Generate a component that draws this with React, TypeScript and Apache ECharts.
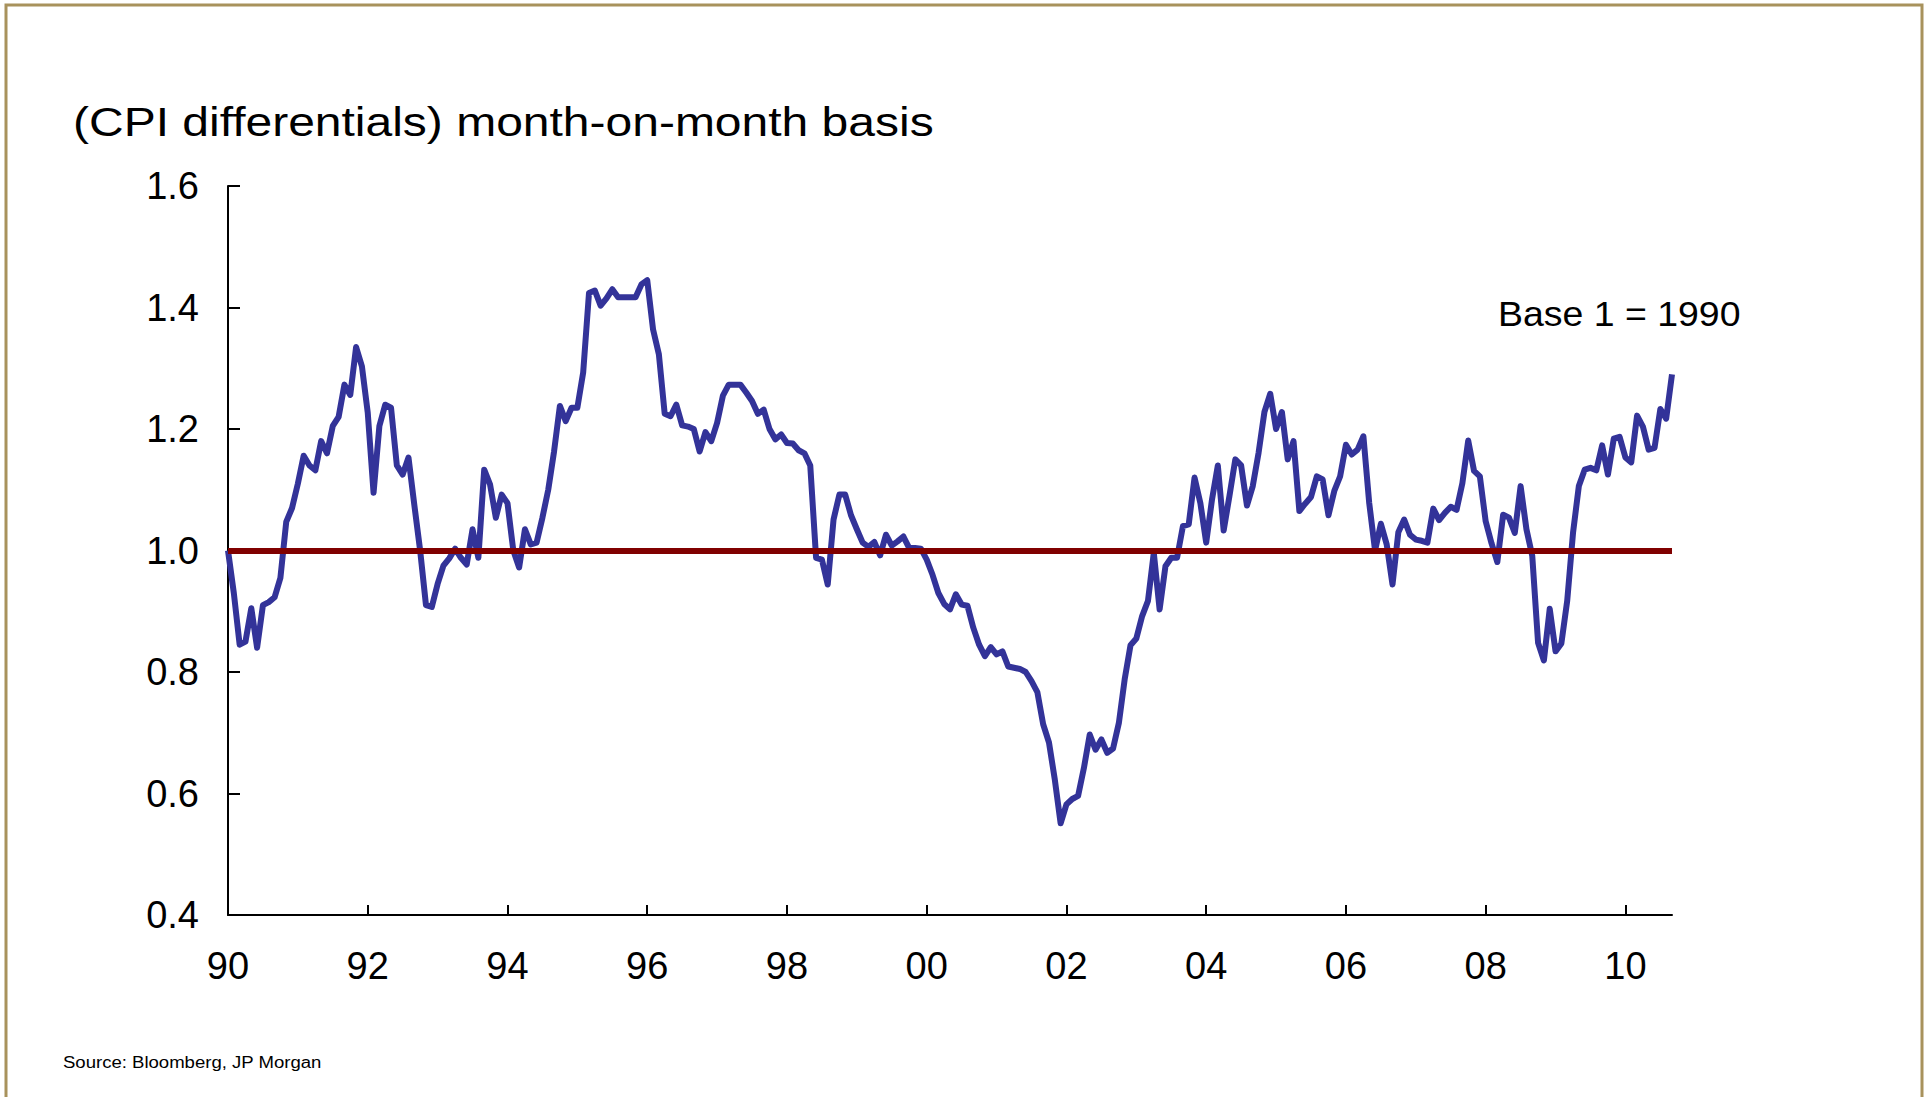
import React, { useEffect, useRef } from "react";
import * as echarts from "echarts";

const FONT = "'Liberation Sans', Arial, Helvetica, sans-serif";

const TITLE = "(CPI differentials) month-on-month basis";
const NOTE = "Base 1 = 1990";
const SOURCE = "Source: Bloomberg, JP Morgan";
const BASE = 1.0;

const Y_MIN = 0.4;
const Y_MAX = 1.6;
const Y_STEP = 0.2;

const v1990 = [1.0, 0.93, 0.845, 0.85, 0.905, 0.84, 0.91, 0.915, 0.923, 0.955, 1.047, 1.07];
const v1991 = [1.11, 1.156, 1.14, 1.132, 1.18, 1.16, 1.205, 1.22, 1.273, 1.256, 1.335, 1.303];
const v1992 = [1.227, 1.095, 1.205, 1.24, 1.235, 1.14, 1.125, 1.153, 1.075, 1.0, 0.91, 0.907];
const v1993 = [0.945, 0.975, 0.987, 1.003, 0.988, 0.977, 1.035, 0.988, 1.133, 1.109, 1.054, 1.092];
const v1994 = [1.078, 1.0, 0.972, 1.035, 1.01, 1.013, 1.054, 1.1, 1.163, 1.238, 1.213, 1.235];
const v1995 = [1.235, 1.293, 1.424, 1.428, 1.403, 1.415, 1.43, 1.417, 1.417, 1.417, 1.417, 1.438];
const v1996 = [1.445, 1.364, 1.323, 1.225, 1.221, 1.24, 1.206, 1.204, 1.2, 1.163, 1.195, 1.18];
const v1997 = [1.21, 1.255, 1.273, 1.273, 1.273, 1.26, 1.246, 1.225, 1.232, 1.2, 1.183, 1.191];
const v1998 = [1.177, 1.176, 1.165, 1.16, 1.14, 0.988, 0.985, 0.944, 1.051, 1.092, 1.092, 1.058];
const v1999 = [1.035, 1.013, 1.006, 1.014, 0.992, 1.026, 1.008, 1.015, 1.023, 1.004, 1.004, 1.003];
const v2000 = [0.985, 0.96, 0.93, 0.912, 0.903, 0.928, 0.911, 0.909, 0.873, 0.845, 0.826, 0.841];
const v2001 = [0.829, 0.834, 0.809, 0.807, 0.805, 0.8, 0.785, 0.767, 0.714, 0.684, 0.623, 0.551];
const v2002 = [0.582, 0.591, 0.596, 0.642, 0.697, 0.672, 0.689, 0.667, 0.674, 0.716, 0.788, 0.844];
const v2003 = [0.855, 0.892, 0.917, 0.996, 0.903, 0.974, 0.988, 0.988, 1.04, 1.043, 1.12, 1.078];
const v2004 = [1.013, 1.084, 1.14, 1.033, 1.09, 1.15, 1.14, 1.074, 1.106, 1.161, 1.228, 1.258];
const v2005 = [1.2, 1.228, 1.15, 1.18, 1.065, 1.077, 1.088, 1.122, 1.117, 1.058, 1.098, 1.122];
const v2006 = [1.174, 1.158, 1.166, 1.188, 1.078, 1.0, 1.044, 1.01, 0.944, 1.03, 1.051, 1.026];
const v2007 = [1.018, 1.016, 1.013, 1.069, 1.05, 1.062, 1.072, 1.067, 1.111, 1.181, 1.131, 1.122];
const v2008 = [1.048, 1.012, 0.981, 1.059, 1.054, 1.029, 1.106, 1.035, 0.991, 0.848, 0.819, 0.904];
const v2009 = [0.834, 0.847, 0.917, 1.029, 1.106, 1.133, 1.136, 1.132, 1.173, 1.125, 1.184, 1.187];
const v2010 = [1.153, 1.145, 1.222, 1.204, 1.166, 1.169, 1.233, 1.217, 1.29];

const values: number[] = [
  ...v1990, ...v1991, ...v1992, ...v1993, ...v1994, ...v1995, ...v1996,
  ...v1997, ...v1998, ...v1999, ...v2000, ...v2001, ...v2002, ...v2003,
  ...v2004, ...v2005, ...v2006, ...v2007, ...v2008, ...v2009, ...v2010,
];

const START_YEAR = 1990;
const TICK_EVERY_MONTHS = 24;

const categories: string[] = values.map((_, i) => {
  const y = START_YEAR + Math.floor(i / 12);
  const m = (i % 12) + 1;
  return `${y}-${m < 10 ? "0" + m : m}`;
});

export default function App() {
  const ref = useRef<HTMLDivElement>(null);

  useEffect(() => {
    if (!ref.current) return;
    const chart = echarts.init(ref.current, null, { renderer: "svg" });
    const showTick = (index: number) => index % TICK_EVERY_MONTHS === 0;
    chart.setOption({
      animation: false,
      backgroundColor: "#ffffff",
      textStyle: { fontFamily: FONT },
      grid: { left: 228, right: 255, top: 186, bottom: 182, containLabel: false },
      xAxis: {
        type: "category",
        data: categories,
        boundaryGap: false,
        axisLine: { show: true, lineStyle: { color: "#000000", width: 2 } },
        axisTick: {
          show: true,
          inside: true,
          length: 10,
          interval: showTick,
          lineStyle: { color: "#000000", width: 2 },
        },
        axisLabel: {
          interval: showTick,
          formatter: (v: string) => v.slice(2, 4),
          fontSize: 38,
          color: "#000000",
          fontFamily: FONT,
          margin: 32,
        },
        splitLine: { show: false },
      },
      yAxis: {
        type: "value",
        min: Y_MIN,
        max: Y_MAX,
        interval: Y_STEP,
        axisLine: { show: true, lineStyle: { color: "#000000", width: 2 } },
        axisTick: { show: true, inside: true, length: 12, lineStyle: { color: "#000000", width: 2 } },
        axisLabel: {
          formatter: (v: number) => v.toFixed(1),
          fontSize: 38,
          color: "#000000",
          fontFamily: FONT,
          margin: 29,
        },
        splitLine: { show: false },
      },
      series: [
        {
          type: "line",
          data: values,
          symbol: "none",
          showSymbol: false,
          emphasis: { disabled: true },
          lineStyle: { color: "#333399", width: 6, join: "round" },
          itemStyle: { color: "#333399" },
          markLine: {
            silent: true,
            symbol: ["none", "none"],
            label: { show: false },
            emphasis: { disabled: true },
            lineStyle: { color: "#800000", width: 6, type: "solid" },
            data: [{ yAxis: BASE }],
          },
        },
      ],
      graphic: [
        {
          type: "rect",
          shape: { x: 6, y: 5, width: 1916, height: 1100 },
          style: { fill: "none", stroke: "#a8925c", lineWidth: 3 },
          silent: true,
        },
        {
          type: "text",
          x: 73,
          y: 122,
          scaleX: 1.2,
          style: {
            text: TITLE,
            fontSize: 40,
            fontFamily: FONT,
            fill: "#000000",
            align: "left",
            verticalAlign: "middle",
          },
        },
        {
          type: "text",
          x: 1498,
          y: 314,
          scaleX: 1.07,
          style: {
            text: NOTE,
            fontSize: 35,
            fontFamily: FONT,
            fill: "#000000",
            align: "left",
            verticalAlign: "middle",
          },
        },
        {
          type: "text",
          x: 63,
          y: 1062,
          scaleX: 1.16,
          style: {
            text: SOURCE,
            fontSize: 16,
            fontFamily: FONT,
            fill: "#000000",
            align: "left",
            verticalAlign: "middle",
          },
        },
      ],
    });
    return () => chart.dispose();
  }, []);

  return (
    <div
      ref={ref}
      style={{ position: "fixed", left: 0, top: 0, width: 1927, height: 1097, background: "#ffffff" }}
    />
  );
}
